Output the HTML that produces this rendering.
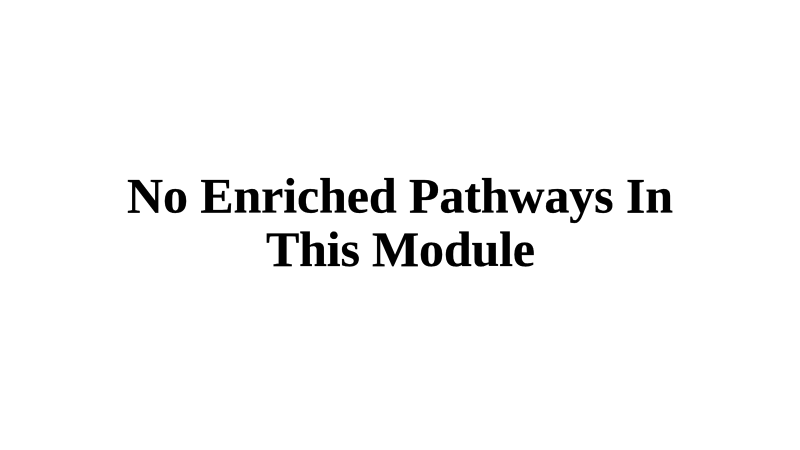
<!DOCTYPE html>
<html>
<head>
<meta charset="utf-8">
<style>
html,body{margin:0;padding:0;background:#fff;width:800px;height:450px;overflow:hidden}
svg{display:block}
text{font-family:"Liberation Serif","Times New Roman",serif;font-weight:700;font-size:50px;fill:#000;stroke:#000;stroke-width:.25px;text-anchor:middle}
</style>
</head>
<body>
<svg width="800" height="450" viewBox="0 0 800 450">
<rect width="800" height="450" fill="#fff"/>
<text x="400" y="212.5" textLength="546" lengthAdjust="spacing">No Enriched Pathways In</text>
<text x="400.5" y="266" textLength="269" lengthAdjust="spacing">This Module</text>
</svg>
</body>
</html>
